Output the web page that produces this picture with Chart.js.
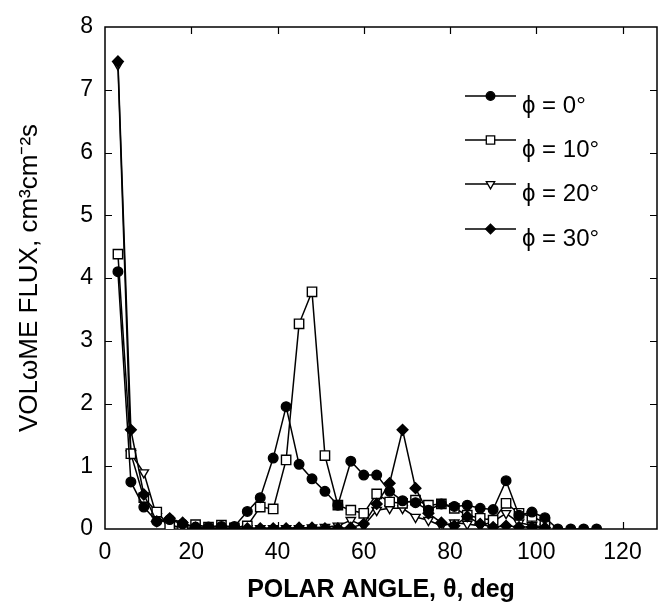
<!DOCTYPE html>
<html><head><meta charset="utf-8">
<script src="https://cdn.jsdelivr.net/npm/chart.js@4.4.1/dist/chart.umd.min.js"></script>
<style>html,body{margin:0;padding:0;background:#fff}#wrap{width:658px;height:607px}</style>
</head><body><div id="wrap"><canvas id="c" width="658" height="607"></canvas></div>
<script>
// ---- data ----
const polarAngles = [3,6,9,12,15,18,21,24,27,30,33,36,39,42,45,48,51,54,57,60,63,66,69,72,75,78,81,84,87,90,93,96,99,102,105,108,111,114];
const fluxPhi0  = [4.1,0.75,0.35,0.12,0.15,0.08,0.03,0.03,0.04,0.04,0.28,0.5,1.13,1.95,1.03,0.8,0.6,0.38,1.08,0.86,0.86,0.6,0.45,0.42,0.3,0.4,0.36,0.38,0.33,0.31,0.77,0.22,0.27,0.18,0,0,0,0];
const fluxPhi10 = [4.38,1.2,0.5,0.27,0.05,0.03,0.07,0.03,0.06,0.02,0.05,0.35,0.32,1.1,3.27,3.78,1.17,0.38,0.3,0.25,0.56,0.43,0.41,0.46,0.38,0.4,0.33,0.22,0.17,0.14,0.41,0.25,0.2,0.1];
const fluxPhi20 = [7.4,1.2,0.9,0.2,0.05,0.02,0.01,0.01,0.01,0.01,0.01,0.01,0.01,0.01,0.01,0.02,0.03,0.05,0.14,0.05,0.3,0.33,0.33,0.19,0.14,0.05,0.1,0.08,0.05,0.12,0.25,0.1,0.06,0.03];
const fluxPhi30 = [7.45,1.58,0.55,0.12,0.17,0.1,0.02,0.01,0.01,0.01,0.01,0.01,0.01,0.01,0.02,0.02,0.01,0.01,0.02,0.08,0.4,0.73,1.58,0.65,0.25,0.1,0.05,0.2,0.08,0.03,0.05,0.03,0.03,0.02];
const seriesLabels = ['ϕ = 0°','ϕ = 10°','ϕ = 20°','ϕ = 30°'];
const xTickValues = [0,20,40,60,80,100,120];
const yTickValues = [0,1,2,3,4,5,6,7,8];
const xTitle = 'POLAR ANGLE, θ, deg';
const yTitle = 'VOLωME FLUX, cm³cm⁻²s';

const FONT = "'Liberation Sans', Arial, Helvetica, sans-serif";
const toPts = vals => vals.map((v, i) => ({x: polarAngles[i], y: v}));

function mkSet(label, vals, style, fill, radius, rotation, order) {
  return {
    label, data: toPts(vals), order,
    borderColor: '#000', borderWidth: 1.5,
    pointStyle: style, pointRadius: radius, pointHoverRadius: radius,
    pointRotation: rotation, pointBackgroundColor: fill,
    pointBorderColor: '#000', pointBorderWidth: 1.4,
    tension: 0, fill: false, showLine: true
  };
}

const framePlugin = {
  id: 'frame',
  beforeDatasetsDraw(chart) {
    const {ctx, chartArea: a} = chart;
    const xs = chart.scales.x, ys = chart.scales.y;
    ctx.save();
    ctx.strokeStyle = '#000';
    ctx.lineWidth = 1.5;
    ctx.strokeRect(a.left, a.top, a.right - a.left, a.bottom - a.top);
    ctx.lineWidth = 1.2;
    const L = 7;
    ctx.beginPath();
    xs.ticks.forEach(t => {
      const px = Math.round(xs.getPixelForValue(t.value)) + 0.5;
      if (px <= a.left + 1 || px >= a.right - 1) return;
      ctx.moveTo(px, a.bottom); ctx.lineTo(px, a.bottom - L);
      ctx.moveTo(px, a.top); ctx.lineTo(px, a.top + L);
    });
    ys.ticks.forEach(t => {
      const py = Math.round(ys.getPixelForValue(t.value)) + 0.5;
      if (py <= a.top + 1 || py >= a.bottom - 1) return;
      ctx.moveTo(a.left, py); ctx.lineTo(a.left + L, py);
      ctx.moveTo(a.right, py); ctx.lineTo(a.right - L, py);
    });
    ctx.stroke();
    ctx.restore();
  }
};

const legendPlugin = {
  id: 'sideLegend',
  afterDraw(chart, args, opts) {
    const {ctx} = chart;
    ctx.save();
    chart.data.datasets.forEach((ds, i) => {
      const y = opts.rows[i];
      ctx.strokeStyle = '#000'; ctx.lineWidth = 1.3;
      ctx.beginPath(); ctx.moveTo(opts.x0, y); ctx.lineTo(opts.x1, y); ctx.stroke();
      ctx.fillStyle = ds.pointBackgroundColor; ctx.strokeStyle = '#000'; ctx.lineWidth = 1.3;
      Chart.helpers.drawPoint(ctx, {pointStyle: ds.pointStyle, rotation: ds.pointRotation, radius: ds.pointRadius * 0.9, borderWidth: 1.3}, (opts.x0 + opts.x1) / 2, y);
      ctx.fillStyle = '#000';
      ctx.font = opts.font;
      ctx.textAlign = 'left'; ctx.textBaseline = 'middle';
      ctx.fillText(ds.label, opts.textX, y + opts.textDy);
    });
    ctx.restore();
  }
};

new Chart(document.getElementById('c'), {
  type: 'line',
  data: {
    datasets: [
      mkSet(seriesLabels[0], fluxPhi0, 'circle', '#000', 4.8, 0, 1),
      mkSet(seriesLabels[1], fluxPhi10, 'rect', '#fff', 6.6, 0, 2),
      mkSet(seriesLabels[2], fluxPhi20, 'triangle', '#fff', 5.4, 180, 3),
      mkSet(seriesLabels[3], fluxPhi30, 'rectRot', '#000', 5.4, 0, 0)
    ]
  },
  options: {
    responsive: false, animation: false, devicePixelRatio: 1,
    layout: {autoPadding: false, padding: {top: 27, right: 1, left: 0, bottom: 0}},
    plugins: {
      legend: {display: false}, tooltip: {enabled: false},
      sideLegend: {rows: [96, 140, 184, 229], x0: 465, x1: 516, textX: 522, textDy: 10, font: "24px " + FONT}
    },
    scales: {
      x: {
        type: 'linear', min: 0, max: 128,
        afterBuildTicks: s => { s.ticks = xTickValues.map(v => ({value: v})); },
        afterFit: s => { s.height = 78; s.paddingLeft = 0; s.paddingRight = 0; },
        grid: {display: false, drawTicks: false},
        border: {display: false},
        ticks: {color: '#000', font: {family: FONT, size: 23}, padding: 10, maxRotation: 0, autoSkip: false},
        title: {display: true, text: xTitle, color: '#000', font: {family: FONT, size: 25, weight: 'bold'}, padding: {top: 0, bottom: 2}}
      },
      y: {
        type: 'linear', min: 0, max: 8,
        afterBuildTicks: s => { s.ticks = yTickValues.map(v => ({value: v})); },
        afterFit: s => { s.width = 105; s.paddingTop = 0; s.paddingBottom = 0; },
        grid: {display: false, drawTicks: false},
        border: {display: false},
        ticks: {color: '#000', font: {family: FONT, size: 23}, padding: 12, autoSkip: false},
        title: {display: true, text: yTitle, color: '#000', font: {family: FONT, size: 26}, padding: {top: 14, bottom: 0}}
      }
    }
  },
  plugins: [framePlugin, legendPlugin]
});
</script>
</body></html>
